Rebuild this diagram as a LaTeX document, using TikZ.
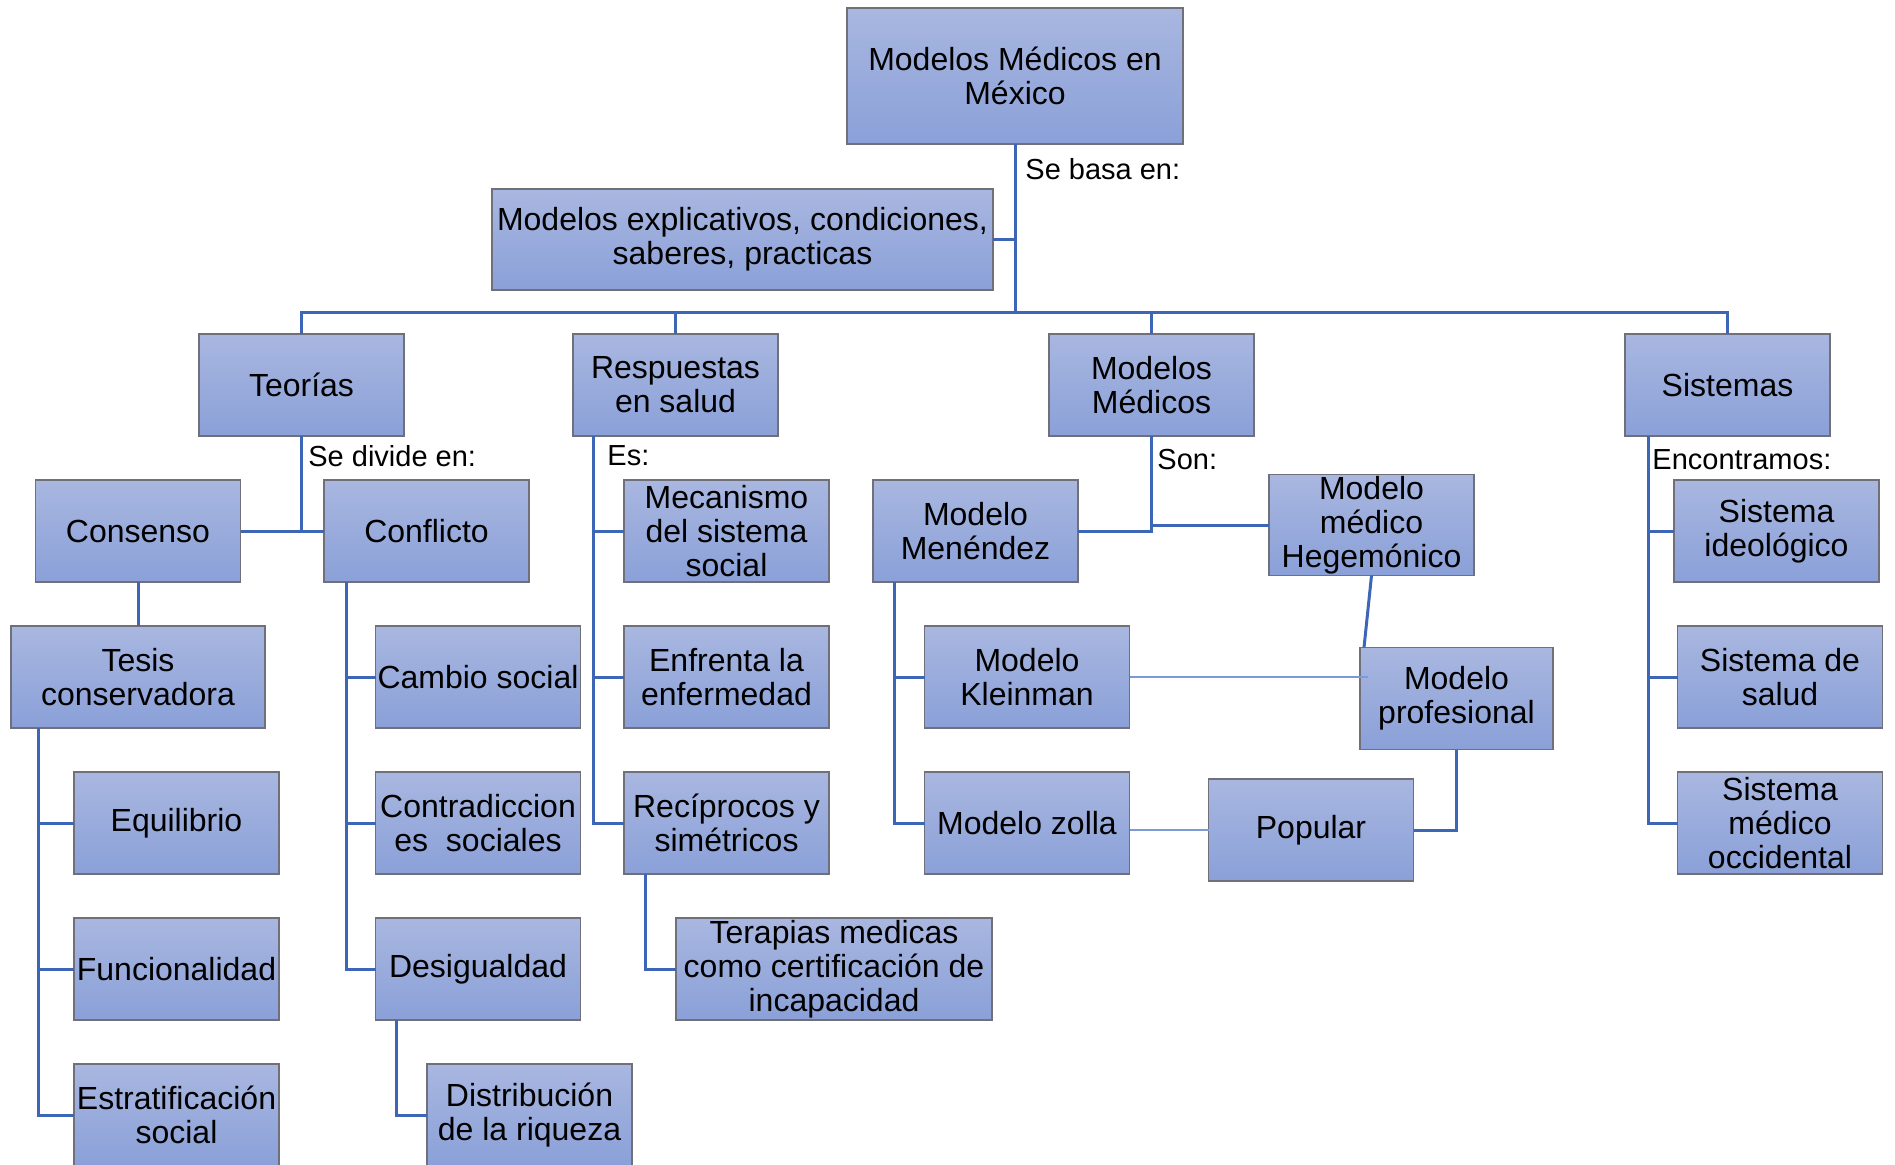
\documentclass[tikz,border=0pt]{standalone}
\usepackage{fontspec}
\setmainfont{Liberation Sans}
\usepackage{tikz}
\usetikzlibrary{positioning}

\definecolor{boxtop}{RGB}{169,183,224}
\definecolor{boxbot}{RGB}{138,160,216}
\definecolor{boxline}{RGB}{112,112,122}
\definecolor{link}{RGB}{62,102,182}
\definecolor{linklight}{RGB}{124,155,214}

\begin{document}
\begin{tikzpicture}[
		box/.style={draw=boxline, line width=0.7pt, top color=boxtop, bottom color=boxbot, align=center,
			inner xsep=1pt, inner ysep=0pt, outer sep=0pt,
			minimum width=102.5pt, minimum height=51pt, font=\fontsize{16}{17}\selectfont},
		tag/.style={anchor=west, inner sep=0pt, font=\fontsize{14.5}{16}\selectfont},
		link/.style={draw=link, line width=1.5pt},
		thinlink/.style={draw=linklight, line width=0.8pt},
		node distance=22pt]
		\useasboundingbox (0,0) rectangle (947.5pt,-582pt);
		\node[box, minimum width=168pt, minimum height=68pt] (root) at (507.5pt,-38pt) {Modelos Médicos en\\México};
		\node[box, minimum width=250.5pt, minimum height=50.5pt] (expl) at (371.25pt,-119.75pt) {Modelos explicativos, condiciones,\\saberes, practicas};
		\node[box] (teo) at (150.75pt,-192.5pt) {Teorías};
		\node[box] (resp) at (337.75pt,-192.5pt) {Respuestas\\en salud};
		\node[box] (mm) at (575.75pt,-192.5pt) {Modelos\\Médicos};
		\node[box] (sis) at (863.75pt,-192.5pt) {Sistemas};
		\coordinate (bus) at (507.5pt,-156pt);

		\node[box, below=of teo, xshift=-81.75pt] (cons) {Consenso};
		\node[box, below=of teo, xshift=62.5pt] (conf) {Conflicto};
		\node[box, below=of cons, minimum width=127pt] (tes) {Tesis\\conservadora};
		\node[box, below=of tes, xshift=19.25pt] (equi) {Equilibrio};
		\node[box, below=of equi] (func) {Funcionalidad};
		\node[box, below=of func] (estr) {Estratificación\\social};
		\node[box, below=of conf, xshift=25.75pt] (camb) {Cambio social};
		\node[box, below=of camb] (contr) {Contradiccion\\es\ \ sociales};
		\node[box, below=of contr] (desig) {Desigualdad};
		\node[box, below=of desig, xshift=25.75pt] (dist) {Distribución\\de la riqueza};

		\node[box, below=of resp, xshift=25.5pt] (meca) {Mecanismo\\del sistema\\social};
		\node[box, below=of meca] (enfr) {Enfrenta la\\enfermedad};
		\node[box, below=of enfr] (reci) {Recíprocos y\\simétricos};
		\node[box, below=of reci, xshift=53.75pt, minimum width=158pt] (ter) {Terapias medicas\\como certificación de\\incapacidad};

		\node[box, below=of mm, xshift=-88pt] (men) {Modelo\\Menéndez};
		\node[box, below=of men, xshift=25.75pt] (klein) {Modelo\\Kleinman};
		\node[box, below=of klein] (zolla) {Modelo zolla};
		\node[box, below=of mm, xshift=110pt, yshift=2.75pt, minimum height=50.5pt] (heg) {Modelo\\médico\\Hegemónico};
		\node[box, below=36pt of heg, xshift=42.5pt, minimum width=96.5pt] (prof) {Modelo\\profesional};
		\node[box, right=39.5pt of zolla, yshift=-3.5pt] (pop) {Popular};

		\node[box, below=of sis, xshift=24.5pt] (ideo) {Sistema\\ideológico};
		\node[box, below=of ideo, xshift=1.75pt] (salud) {Sistema de\\salud};
		\node[box, below=of salud] (occi) {Sistema\\médico\\occidental};

		\node[tag] (basa) at (512.5pt,-84.5pt) {Se basa en:};
		\node[tag] (divide) at (154pt,-228pt) {Se divide en:};
		\node[tag] (es) at (303.5pt,-228pt) {Es:};
		\node[tag] (son) at (578.5pt,-230pt) {Son:};
		\node[tag] (encon) at (826pt,-230pt) {Encontramos:};

		\draw[link] (root.south) -- (bus);
		\draw[link] (expl.east) -- (expl.east -| root.south);
		\draw[link] (teo.north) |- (bus) -| (sis.north);
		\draw[link] (resp.north) |- (bus);
		\draw[link] (mm.north) |- (bus);

		\draw[link] (teo.south) -- (teo.south |- cons.east);
		\draw[link] (cons.east) -- (conf.west);
		\draw[link] (cons.south) -- (tes.north);
		\foreach \n in {equi,func,estr}
			\draw[link] ([xshift=13.5pt]tes.south west) |- (\n.west);
		\foreach \n in {camb,contr,desig}
			\draw[link] ([xshift=11pt]conf.south west) |- (\n.west);
		\draw[link] ([xshift=10.5pt]desig.south west) |- (dist.west);

		\foreach \n in {meca,enfr,reci}
			\draw[link] ([xshift=10pt]resp.south west) |- (\n.west);
		\draw[link] ([xshift=10.5pt]reci.south west) |- (ter.west);

		\draw[link] (mm.south) |- (men.east);
		\draw[link] (mm.south |- heg.west) -- (heg.west);
		\foreach \n in {klein,zolla}
			\draw[link] ([xshift=10.5pt]men.south west) |- (\n.west);
		\draw[link] (heg.south) -- ([xshift=2pt]prof.north west);
		\draw[thinlink] (klein.east) -- ([xshift=4pt]prof.west |- klein.east);
		\draw[thinlink] (zolla.east |- pop.west) -- (pop.west);
		\draw[link] (prof.south) |- (pop.east);

		\foreach \n in {ideo,salud,occi}
			\draw[link] ([xshift=11.5pt]sis.south west) |- (\n.west);
	\end{tikzpicture}
\end{document}
